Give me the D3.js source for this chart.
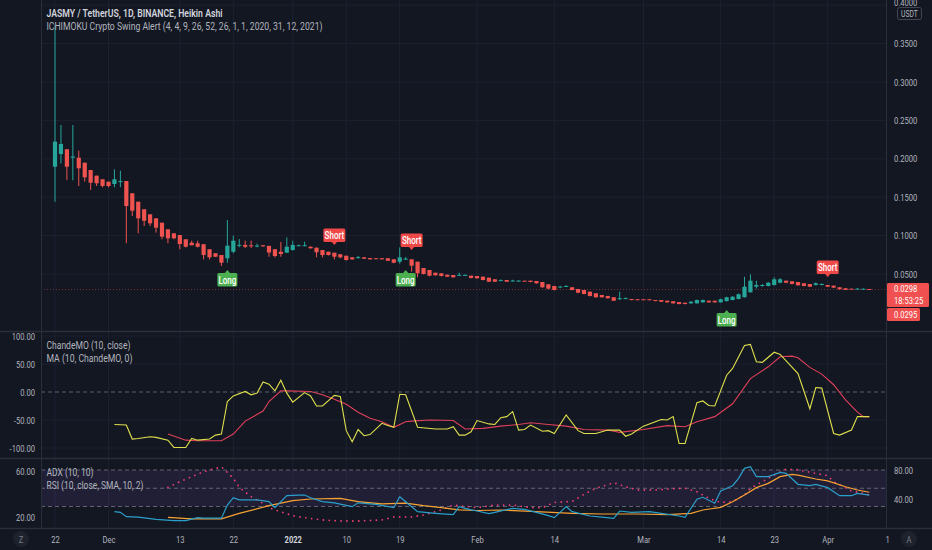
<!DOCTYPE html>
<html><head><meta charset="utf-8">
<script src="https://cdn.jsdelivr.net/npm/d3@7"></script>
<style>html,body{margin:0;padding:0;background:#131722;overflow:hidden}</style>
</head><body>
<svg id="c" width="932" height="550"></svg>
<script>
// ---------------- DATA ----------------
const startDate = Date.UTC(2021, 10, 22);   // first bar, Nov 22 2021 (daily bars)
const haOpen = [.1897,.2062,.2124,.2015,.2014,.1949,.1854,.1780,.1733,.1702,
.1672,.1700,.1711,.1551,.1441,.1342,.1277,.1225,.1168,.1082,
.1030,.1008,.0952,.0908,.0900,.0887,.0822,.0770,.0747,.0704,
.0790,.0872,.0878,.0874,.0864,.0874,.0866,.0822,.0790,.0777,
.0812,.0870,.0867,.0855,.0843,.0812,.0790,.0777,.0757,.0738,
.0717,.0712,.0717,.0708,.0705,.0705,.0705,.0691,.0660,.0695,
.0691,.0660,.0578,.0552,.0517,.0509,.0491,.0487,.0485,.0485,
.0478,.0474,.0465,.0452,.0431,.0415,.0422,.0410,.0410,.0413,
.0413,.0409,.0396,.0366,.0344,.0332,.0338,.0327,.0305,.0292,
.0270,.0249,.0227,.0214,.0197,.0182,.0182,.0174,.0171,.0171,
.0171,.0161,.0161,.0152,.0145,.0135,.0126,.0118,.0118,.0131,
.0152,.0152,.0131,.0148,.0161,.0174,.0197,.0262,.0335,.0344,
.0344,.0357,.0387,.0413,.0405,.0396,.0379,.0370,.0357,.0357,
.0357,.0348,.0327,.0314,.0309,.0301,.0301,.0305];
const haClose = [.2223,.2193,.1897,.2030,.1876,.1759,.1689,.1681,.1646,.1646,
.1733,.1710,.1385,.1324,.1225,.1194,.1160,.1103,.0986,.0965,
.0965,.0890,.0855,.0874,.0855,.0747,.0717,.0725,.0647,.0868,
.0934,.0880,.0855,.0866,.0870,.0860,.0780,.0734,.0760,.0855,
.0878,.0874,.0875,.0835,.0783,.0747,.0747,.0725,.0717,.0682,
.0691,.0720,.0699,.0691,.0700,.0691,.0673,.0647,.0717,.0700,
.0608,.0509,.0500,.0478,.0483,.0474,.0465,.0457,.0490,.0489,
.0448,.0444,.0422,.0400,.0400,.0420,.0400,.0415,.0414,.0409,
.0396,.0379,.0327,.0309,.0292,.0336,.0344,.0292,.0257,.0240,
.0214,.0197,.0197,.0184,.0152,.0185,.0186,.0161,.0168,.0168,
.0161,.0148,.0139,.0131,.0118,.0109,.0109,.0139,.0161,.0161,
.0131,.0131,.0171,.0197,.0204,.0236,.0335,.0413,.0357,.0357,
.0387,.0431,.0431,.0387,.0370,.0353,.0344,.0335,.0379,.0370,
.0335,.0322,.0301,.0292,.0301,.0310,.0308,.0298];
const haHigh = [.374,.244,.2124,.244,.2105,.1949,.1854,.1780,.1733,.1702,
.1863,.1845,.1711,.1551,.1441,.1342,.1277,.1225,.1168,.1082,
.1030,.1008,.0952,.0934,.0934,.0887,.0822,.0770,.0747,.1203,
.1000,.0955,.0934,.0934,.0895,.0874,.0866,.0822,.0917,.0977,
.0934,.0882,.0920,.0860,.0843,.0812,.0790,.0777,.0757,.0738,
.0717,.0735,.0717,.0708,.0705,.0705,.0705,.0691,.0846,.0721,
.0691,.0660,.0578,.0552,.0517,.0509,.0491,.0487,.0517,.0495,
.0478,.0474,.0465,.0452,.0431,.0430,.0422,.0425,.0420,.0413,
.0413,.0409,.0396,.0366,.0344,.0345,.0355,.0327,.0305,.0292,
.0270,.0249,.0227,.0214,.0197,.0270,.0195,.0174,.0171,.0171,
.0171,.0161,.0161,.0152,.0145,.0135,.0126,.0145,.0168,.0168,
.0152,.0152,.0178,.0204,.0212,.0245,.0465,.0496,.0413,.0370,
.0395,.0457,.0448,.0413,.0405,.0396,.0379,.0370,.0390,.0378,
.0357,.0348,.0327,.0314,.0309,.0315,.0312,.0305];
const haLow = [.1441,.194,.1724,.172,.1646,.1702,.1594,.1646,.1629,.1630,
.1629,.1630,.0900,.1255,.1030,.1125,.1125,.1038,.0952,.0900,
.0952,.0822,.0845,.0874,.0845,.0690,.0690,.0720,.0604,.0647,
.0770,.0848,.0838,.0838,.0848,.0855,.0725,.0716,.0725,.0777,
.0805,.0865,.0860,.0830,.0717,.0717,.0740,.0690,.0705,.0675,
.0685,.0700,.0695,.0688,.0695,.0688,.0668,.0640,.0634,.0682,
.0530,.0457,.0495,.0470,.0478,.0468,.0460,.0452,.0474,.0480,
.0442,.0440,.0418,.0395,.0396,.0410,.0396,.0405,.0405,.0405,
.0392,.0375,.0320,.0300,.0285,.0325,.0332,.0288,.0250,.0235,
.0208,.0192,.0192,.0180,.0148,.0161,.0178,.0158,.0164,.0164,
.0158,.0145,.0135,.0127,.0114,.0105,.0105,.0112,.0115,.0128,
.0127,.0127,.0128,.0140,.0158,.0170,.0195,.0258,.0310,.0335,
.0340,.0350,.0380,.0380,.0365,.0348,.0340,.0330,.0350,.0352,
.0330,.0318,.0298,.0290,.0298,.0298,.0298,.0296];

const signalDays   = [29, 47, 59, 60, 113, 130];
const signalTypes  = ["Long","Short","Long","Short","Long","Short"];
const signalPrices = [.0552, .0877, .0552, .0813, .0031, .0461];

// [bar index, value]
const cmoPoints = [[10,-58],[12,-59],[13,-84],[14,-83],[16,-80],[17,-81],[19,-86],[20,-99],[22,-99],[23,-83],
[24,-86],[26,-84],[27,-77],[28,-75],[29,-17],[30,-7],[32,1],[33,-5],[34,-2],[35,18],[36,14],[37,2],[38,21],
[39,-2],[40,-18],[42,-1],[43,-7],[44,-25],[45,-25],[47,-6],[48,-8],[49,-69],[50,-89],[51,-67],[52,-78],[53,-76],
[55,-56],[56,-60],[57,-63],[58,-4],[59,-5],[61,-63],[64,-66],[66,-66],[67,-62],[68,-77],[69,-77],[70,-71],
[71,-51],[73,-57],[74,-58],[75,-46],[76,-44],[77,-35],[78,-68],[79,-67],[80,-59],[82,-70],[83,-69],[84,-74],
[86,-41],[88,-69],[89,-74],[91,-74],[93,-68],[95,-68],[96,-79],[97,-75],[99,-61],[101,-53],[102,-49],[103,-50],
[104,-44],[105,-92],[106,-92],[108,-19],[109,-16],[110,-24],[111,-25],[113,30],[114,42],[116,83],[117,85],
[118,54],[119,53],[121,71],[122,67],[125,33],[127,-30],[128,8],[129,7],[131,-74],[132,-77],[134,-68],[135,-44],[137,-44]];
const cmoMaPoints = [[19,-75],[22,-86],[24,-87],[28,-87],[30,-75],[32,-52],[35,-34],[36,-17],[38,2],[39,2],[43,1],
[45,-5],[47,-13],[49,-22],[51,-36],[53,-47],[55,-53],[57,-63],[59,-53],[60,-52],[63,-50],[67,-51],[69,-66],
[72,-65],[75,-61],[78,-58],[80,-55],[83,-58],[86,-61],[89,-67],[93,-68],[95,-72],[99,-67],[103,-60],[106,-62],
[108,-53],[111,-44],[114,-21],[117,24],[120,45],[122,63],[124,64],[125,61],[127,44],[129,32],[131,13],[133,-14],
[135,-36],[136,-44],[137,-44]];
const rsiPoints = [[10,23],[11,22],[12,16],[14,15.5],[17,12.4],[20,10.6],[22,10.6],[24,14.7],[25,14],[28,14],
[29,32],[30,42],[31,39],[34,39],[36,36.6],[37,28.4],[39,44.8],[41,45.7],[42,45.7],[43,42],[45,36.6],[47,35],
[50,29.8],[51,35],[54,33],[57,28.4],[58,43.4],[59,36.6],[61,22.9],[64,20.6],[67,18.8],[68,29.8],[70,25.3],
[71,23.8],[73,20.2],[74,22],[77,27.5],[79,26],[81,22],[83,17.4],[84,14.7],[86,29.8],[87,22.9],[90,17],[92,15.5],
[94,13.8],[95,23.8],[97,22],[100,23],[102,20.6],[105,17],[106,15.2],[108,39.9],[109,42.6],[111,34.4],[112,51.2],
[114,58.5],[115,68.6],[116,82.3],[117,84.6],[118,70.9],[120,70.9],[122,76.8],[123,75.5],[125,60.4],[127,58.5],
[128,60.4],[130,55.8],[132,44.8],[134,44.8],[135,48],[137,45.7]];
const rsiMaPoints = [[19,15.2],[23,13],[28,13],[31,20.6],[36,31.1],[40,38],[43,40.3],[48,41],[51,36.6],[55,33.7],
[59,34.5],[62,31.1],[65,28.4],[68,25.3],[71,24.5],[75,25.2],[81,22.9],[87,20.6],[92,19.7],[98,19.7],[103,18.8],
[107,20.6],[109,25.2],[112,28.9],[114,36.6],[116,45.7],[118,55.8],[120,61.7],[122,70.9],[124,74],[125,73],
[128,67.7],[130,65],[133,57.1],[135,52.6],[137,49.5]];
const adxPoints = [[19,45.9],[21,50.8],[23,55.1],[25,59.4],[28,63.7],[30,53.7],[31,45.9],[33,37.8],[35,32.1],
[36,28.3],[38,24.8],[40,21.4],[42,19.7],[45,17.7],[48,16.8],[51,16.8],[55,17.7],[57,20.3],[60,20.3],[62,22],
[65,26.3],[67,30.6],[69,29.5],[71,28.3],[74,30.6],[77,30.6],[80,28.3],[82,28.3],[84,32.9],[87,33.7],[89,39.9],
[91,45],[94,49.9],[96,46.4],[98,43.6],[101,43.6],[104,44.7],[106,45.1],[108,42.1],[110,36.4],[112,32.9],
[114,33.4],[116,39.3],[117,45],[119,50.8],[121,56.5],[123,61.7],[125,61],[128,58],[130,56],[131,50.8],
[134,42.7],[136,40.7],[137,39.3]];

const timeTicks  = ["2021-11-22","2021-12-01","2021-12-13","2021-12-22","2022-01-01","2022-01-10","2022-01-19",
                    "2022-02-01","2022-02-14","2022-03-01","2022-03-14","2022-03-23","2022-04-01","2022-04-11"];
const timeLabels = ["22","Dec","13","22","2022","10","19","Feb","14","Mar","14","23","Apr","1"];
const priceTicks = [0.05,0.10,0.15,0.20,0.25,0.30,0.35,0.40];
const cmoTicks = [100,50,0,-50,-100];
const adxTicks = [60,20];
const rsiTicks = [80,40];
const rsiBands = [80,55,30];
const lastPrice = 0.0298, lastPrice2 = 0.0295, countdown = "18:53:25";

// ---------------- LAYOUT ----------------
const W=932,H=550, PL=41, PR=886;
const P1={t:0,b:331}, P2={t:331,b:458}, P3={t:458,b:528};
const FONT="Roboto, 'Open Sans', sans-serif";
const C={bg:"#131722",grid:"#1d2130",sep:"#2a2e39",txt:"#b2b5be",up:"#26a69a",dn:"#ef5350"};

const svg=d3.select("#c").style("font-family",FONT);
const dayDate = i => d3.utcDay.offset(new Date(startDate), i);
const x = d3.scaleUtc().domain([new Date(startDate), new Date(Date.UTC(2022,3,1))]).range([55, 827.7]);
const yP = d3.scaleLinear().domain([0,0.35]).range([312.4,43.6]);
const yC = d3.scaleLinear().domain([-100,100]).range([448,336]);
const yA = d3.scaleLinear().domain([20,60]).range([517.3,471]);
const yR = d3.scaleLinear().domain([30,80]).range([506.5,470]);

svg.append("rect").attr("width",W).attr("height",H).attr("fill",C.bg);
const defs=svg.append("defs");
[["c1",P1],["c2",P2],["c3",P3]].forEach(([id,p])=>defs.append("clipPath").attr("id",id)
  .append("rect").attr("x",PL+1).attr("y",p.t+1).attr("width",PR-PL-1).attr("height",p.b-p.t-1));

const tDates = timeTicks.map(s=>new Date(s+"T00:00:00Z"));
// vertical grid
[P1,P2,P3].forEach(p=>{
  svg.append("g").selectAll("line").data(tDates.slice(0,-1)).join("line")
    .attr("x1",d=>x(d)).attr("x2",d=>x(d)).attr("y1",p.t).attr("y2",p.b)
    .attr("stroke",C.grid).attr("stroke-width",1);
});
// horizontal grids
svg.append("g").selectAll("line").data(priceTicks).join("line")
  .attr("x1",PL).attr("x2",PR).attr("y1",d=>yP(d)).attr("y2",d=>yP(d)).attr("stroke",C.grid);
svg.append("g").selectAll("line").data(cmoTicks.filter(d=>d!==0)).join("line")
  .attr("x1",PL).attr("x2",PR).attr("y1",d=>yC(d)).attr("y2",d=>yC(d)).attr("stroke",C.grid);

// bottom pane band
svg.append("rect").attr("x",PL+1).attr("width",PR-PL-1).attr("y",yR(80)).attr("height",yR(30)-yR(80))
  .attr("fill","rgba(126,87,194,0.13)");
svg.append("g").selectAll("line").data(rsiBands).join("line")
  .attr("x1",PL).attr("x2",PR).attr("y1",d=>yR(d)).attr("y2",d=>yR(d))
  .attr("stroke","#787b86").attr("stroke-dasharray","4,3").attr("opacity",0.75);
svg.append("line").attr("x1",PL).attr("x2",PR).attr("y1",yC(0)).attr("y2",yC(0))
  .attr("stroke","#787b86").attr("stroke-dasharray","4,3").attr("opacity",0.75);

// separators
[P1.b,P2.b,P3.b].forEach(y=>svg.append("line").attr("x1",0).attr("x2",W).attr("y1",y+.5).attr("y2",y+.5).attr("stroke",C.sep).attr("stroke-width",1.5));
svg.append("line").attr("x1",PL+.5).attr("x2",PL+.5).attr("y1",0).attr("y2",P3.b).attr("stroke",C.sep);
svg.append("line").attr("x1",PR+.5).attr("x2",PR+.5).attr("y1",0).attr("y2",P3.b).attr("stroke",C.sep);

// ---------------- MAIN PANE ----------------
const main = svg.append("g").attr("clip-path","url(#c1)");
main.append("line").attr("x1",PL).attr("x2",PR).attr("y1",yP(lastPrice)).attr("y2",yP(lastPrice))
  .attr("stroke","#ef5350").attr("stroke-opacity",0.45).attr("stroke-dasharray","1,2");
const candles = haOpen.map((o,i)=>({d:dayDate(i),o,c:haClose[i],h:haHigh[i],l:haLow[i]}));
const cg = main.append("g").selectAll("g").data(candles).join("g");
cg.append("line").attr("x1",d=>x(d.d)).attr("x2",d=>x(d.d)).attr("y1",d=>yP(d.h)).attr("y2",d=>yP(d.l))
  .attr("stroke",d=>d.c>=d.o?C.up:C.dn).attr("stroke-width",1);
cg.append("rect").attr("x",d=>x(d.d)-2.1).attr("width",4.2)
  .attr("y",d=>yP(Math.max(d.o,d.c))).attr("height",d=>Math.max(1,Math.abs(yP(d.o)-yP(d.c))))
  .attr("fill",d=>d.c>=d.o?C.up:C.dn);

// signals
const sig = signalDays.map((d,i)=>({d:dayDate(d),t:signalTypes[i],p:signalPrices[i]}));
const sg = main.append("g").selectAll("g").data(sig).join("g")
  .attr("transform",d=>`translate(${x(d.d)},${yP(d.p)})`);
sg.append("path").attr("d",d=>d.t==="Long"?"M0,0L3,3.5L-3,3.5Z":"M0,0L3,-3.5L-3,-3.5Z")
  .attr("fill",d=>d.t==="Long"?"#4caf50":"#f04747");
sg.append("rect").attr("x",d=>d.t==="Long"?-10:-11).attr("width",d=>d.t==="Long"?20:22)
  .attr("y",d=>d.t==="Long"?3:-16.5).attr("height",13.5).attr("rx",1.5)
  .attr("fill",d=>d.t==="Long"?"#4caf50":"#f04747");
sg.append("text").attr("class","sigt").attr("text-anchor","middle").attr("y",d=>d.t==="Long"?13.8:-5.8)
  .attr("fill","#fff").attr("font-size",10).attr("font-weight",500).text(d=>d.t);

// ---------------- CMO PANE ----------------
const p2=svg.append("g").attr("clip-path","url(#c2)");
const lineC=d3.line().x(d=>x(dayDate(d[0]))).y(d=>yC(d[1]));
p2.append("path").datum(cmoMaPoints).attr("d",lineC).attr("fill","none").attr("stroke","#e0405a").attr("stroke-width",1.1);
p2.append("path").datum(cmoPoints).attr("d",lineC).attr("fill","none").attr("stroke","#dfe04c").attr("stroke-width",1.1);

// ---------------- ADX / RSI PANE ----------------
const p3=svg.append("g").attr("clip-path","url(#c3)");
const lineR=d3.line().x(d=>x(dayDate(d[0]))).y(d=>yR(d[1]));
const lineA=d3.line().x(d=>x(dayDate(d[0]))).y(d=>yA(d[1]));
p3.append("path").datum(adxPoints).attr("d",lineA).attr("fill","none").attr("stroke","#f23f73")
  .attr("stroke-width",1.8).attr("stroke-dasharray","0,5.9").attr("stroke-linecap","round");
p3.append("path").datum(rsiMaPoints).attr("d",lineR).attr("fill","none").attr("stroke","#f7a233").attr("stroke-width",1.2);
p3.append("path").datum(rsiPoints).attr("d",lineR).attr("fill","none").attr("stroke","#2a9fc9").attr("stroke-width",1.2);

// ---------------- AXES ----------------
function styleAxis(g){ g.select(".domain").remove(); g.selectAll(".tick line").remove();
  g.selectAll("text").attr("fill",C.txt).attr("font-size",9.5).attr("font-family",FONT); }
const gxA=svg.append("g").attr("transform","translate(0,543)")
  .call(d3.axisBottom(x).tickValues(tDates).tickFormat((d,i)=>timeLabels[i]).tickSize(0).tickPadding(0));
styleAxis(gxA); gxA.selectAll("text").attr("y",0).attr("dy",0);
gxA.selectAll("text").filter(function(){return this.textContent==="2022";}).attr("font-weight",700).attr("fill","#d1d4dc");

const gyP=svg.append("g").attr("transform","translate(894,0)")
  .call(d3.axisRight(yP).tickValues(priceTicks).tickFormat(d=>d.toFixed(4)).tickSize(0).tickPadding(0));
styleAxis(gyP);
gyP.selectAll(".tick").filter(d=>d===0.40).select("text").attr("dy","0.05em");
const gyC=svg.append("g").attr("transform","translate(35,0)")
  .call(d3.axisLeft(yC).tickValues(cmoTicks).tickFormat(d=>d.toFixed(2)).tickSize(0).tickPadding(0));
styleAxis(gyC);
const gyA=svg.append("g").attr("transform","translate(35,0)")
  .call(d3.axisLeft(yA).tickValues(adxTicks).tickFormat(d=>d.toFixed(2)).tickSize(0).tickPadding(0));
styleAxis(gyA);
const gyR=svg.append("g").attr("transform","translate(894,0)")
  .call(d3.axisRight(yR).tickValues(rsiTicks).tickFormat(d=>d.toFixed(2)).tickSize(0).tickPadding(0));
styleAxis(gyR);

// USDT tag (covers the top price label, as in the platform)
svg.append("rect").attr("x",897.5).attr("y",7.5).attr("width",24).attr("height",12).attr("rx",2)
  .attr("fill",C.bg).attr("stroke","#434651");
svg.append("text").attr("x",909.5).attr("y",16.8).attr("text-anchor","middle").attr("fill",C.txt).attr("font-size",8.5).text("USDT");

// last price labels
const ly=yP(lastPrice);
svg.append("rect").attr("x",887).attr("y",ly-6.5).attr("width",42).attr("height",24).attr("rx",1.5).attr("fill","#f0504f");
svg.append("text").attr("x",894).attr("y",ly+2.8).attr("fill","#fff").attr("font-size",9.5).text(lastPrice.toFixed(4));
svg.append("text").attr("x",894).attr("y",ly+14).attr("fill","#fff").attr("font-size",9.5).text(countdown);
svg.append("rect").attr("x",887).attr("y",ly+18.5).attr("width",33).attr("height",13).attr("rx",1.5).attr("fill","#f0504f");
svg.append("text").attr("x",894).attr("y",ly+28.5).attr("fill","#fff").attr("font-size",9.5).text(lastPrice2.toFixed(4));

// Z / A buttons
[[21,"Z"],[909,"A"]].forEach(([cx,t])=>{
  svg.append("circle").attr("cx",cx).attr("cy",539).attr("r",8).attr("fill","#1e222d");
  svg.append("text").attr("x",cx).attr("y",542.5).attr("text-anchor","middle").attr("fill","#787b86").attr("font-size",9.5).text(t);
});

// titles / legends (with target widths)
function label(txt,x0,y0,w,opt={}){
  return svg.append("text").attr("x",x0).attr("y",y0).attr("fill",opt.fill||C.txt).attr("font-size",opt.fs||10)
    .attr("font-weight",opt.fw||400).attr("textLength",w).attr("lengthAdjust","spacingAndGlyphs").attr("class","fixed").text(txt);
}
label("JASMY / TetherUS, 1D, BINANCE, Heikin Ashi",46.5,17,176,{fill:"#d1d4dc",fw:600,fs:10.5});
label("ICHIMOKU Crypto Swing Alert (4, 4, 9, 26, 52, 26, 1, 1, 2020, 31, 12, 2021)",46.5,29.5,276,{fs:10.5});
label("ChandeMO (10, close)",46.5,349,84,{fs:10});
label("MA (10, ChandeMO, 0)",46.5,362,86,{fs:10});
label("ADX (10, 10)",46.5,475.5,47,{fs:10});
label("RSI (10, close, SMA, 10, 2)",46.5,489,97,{fs:10});

// condense remaining text to match the narrow UI font
svg.selectAll("text").filter(function(){return !this.classList.contains("fixed");}).each(function(){
  const w=this.getComputedTextLength(); if(w>0){ this.setAttribute("textLength",w*0.8); this.setAttribute("lengthAdjust","spacingAndGlyphs"); }
});
</script>
</body></html>
